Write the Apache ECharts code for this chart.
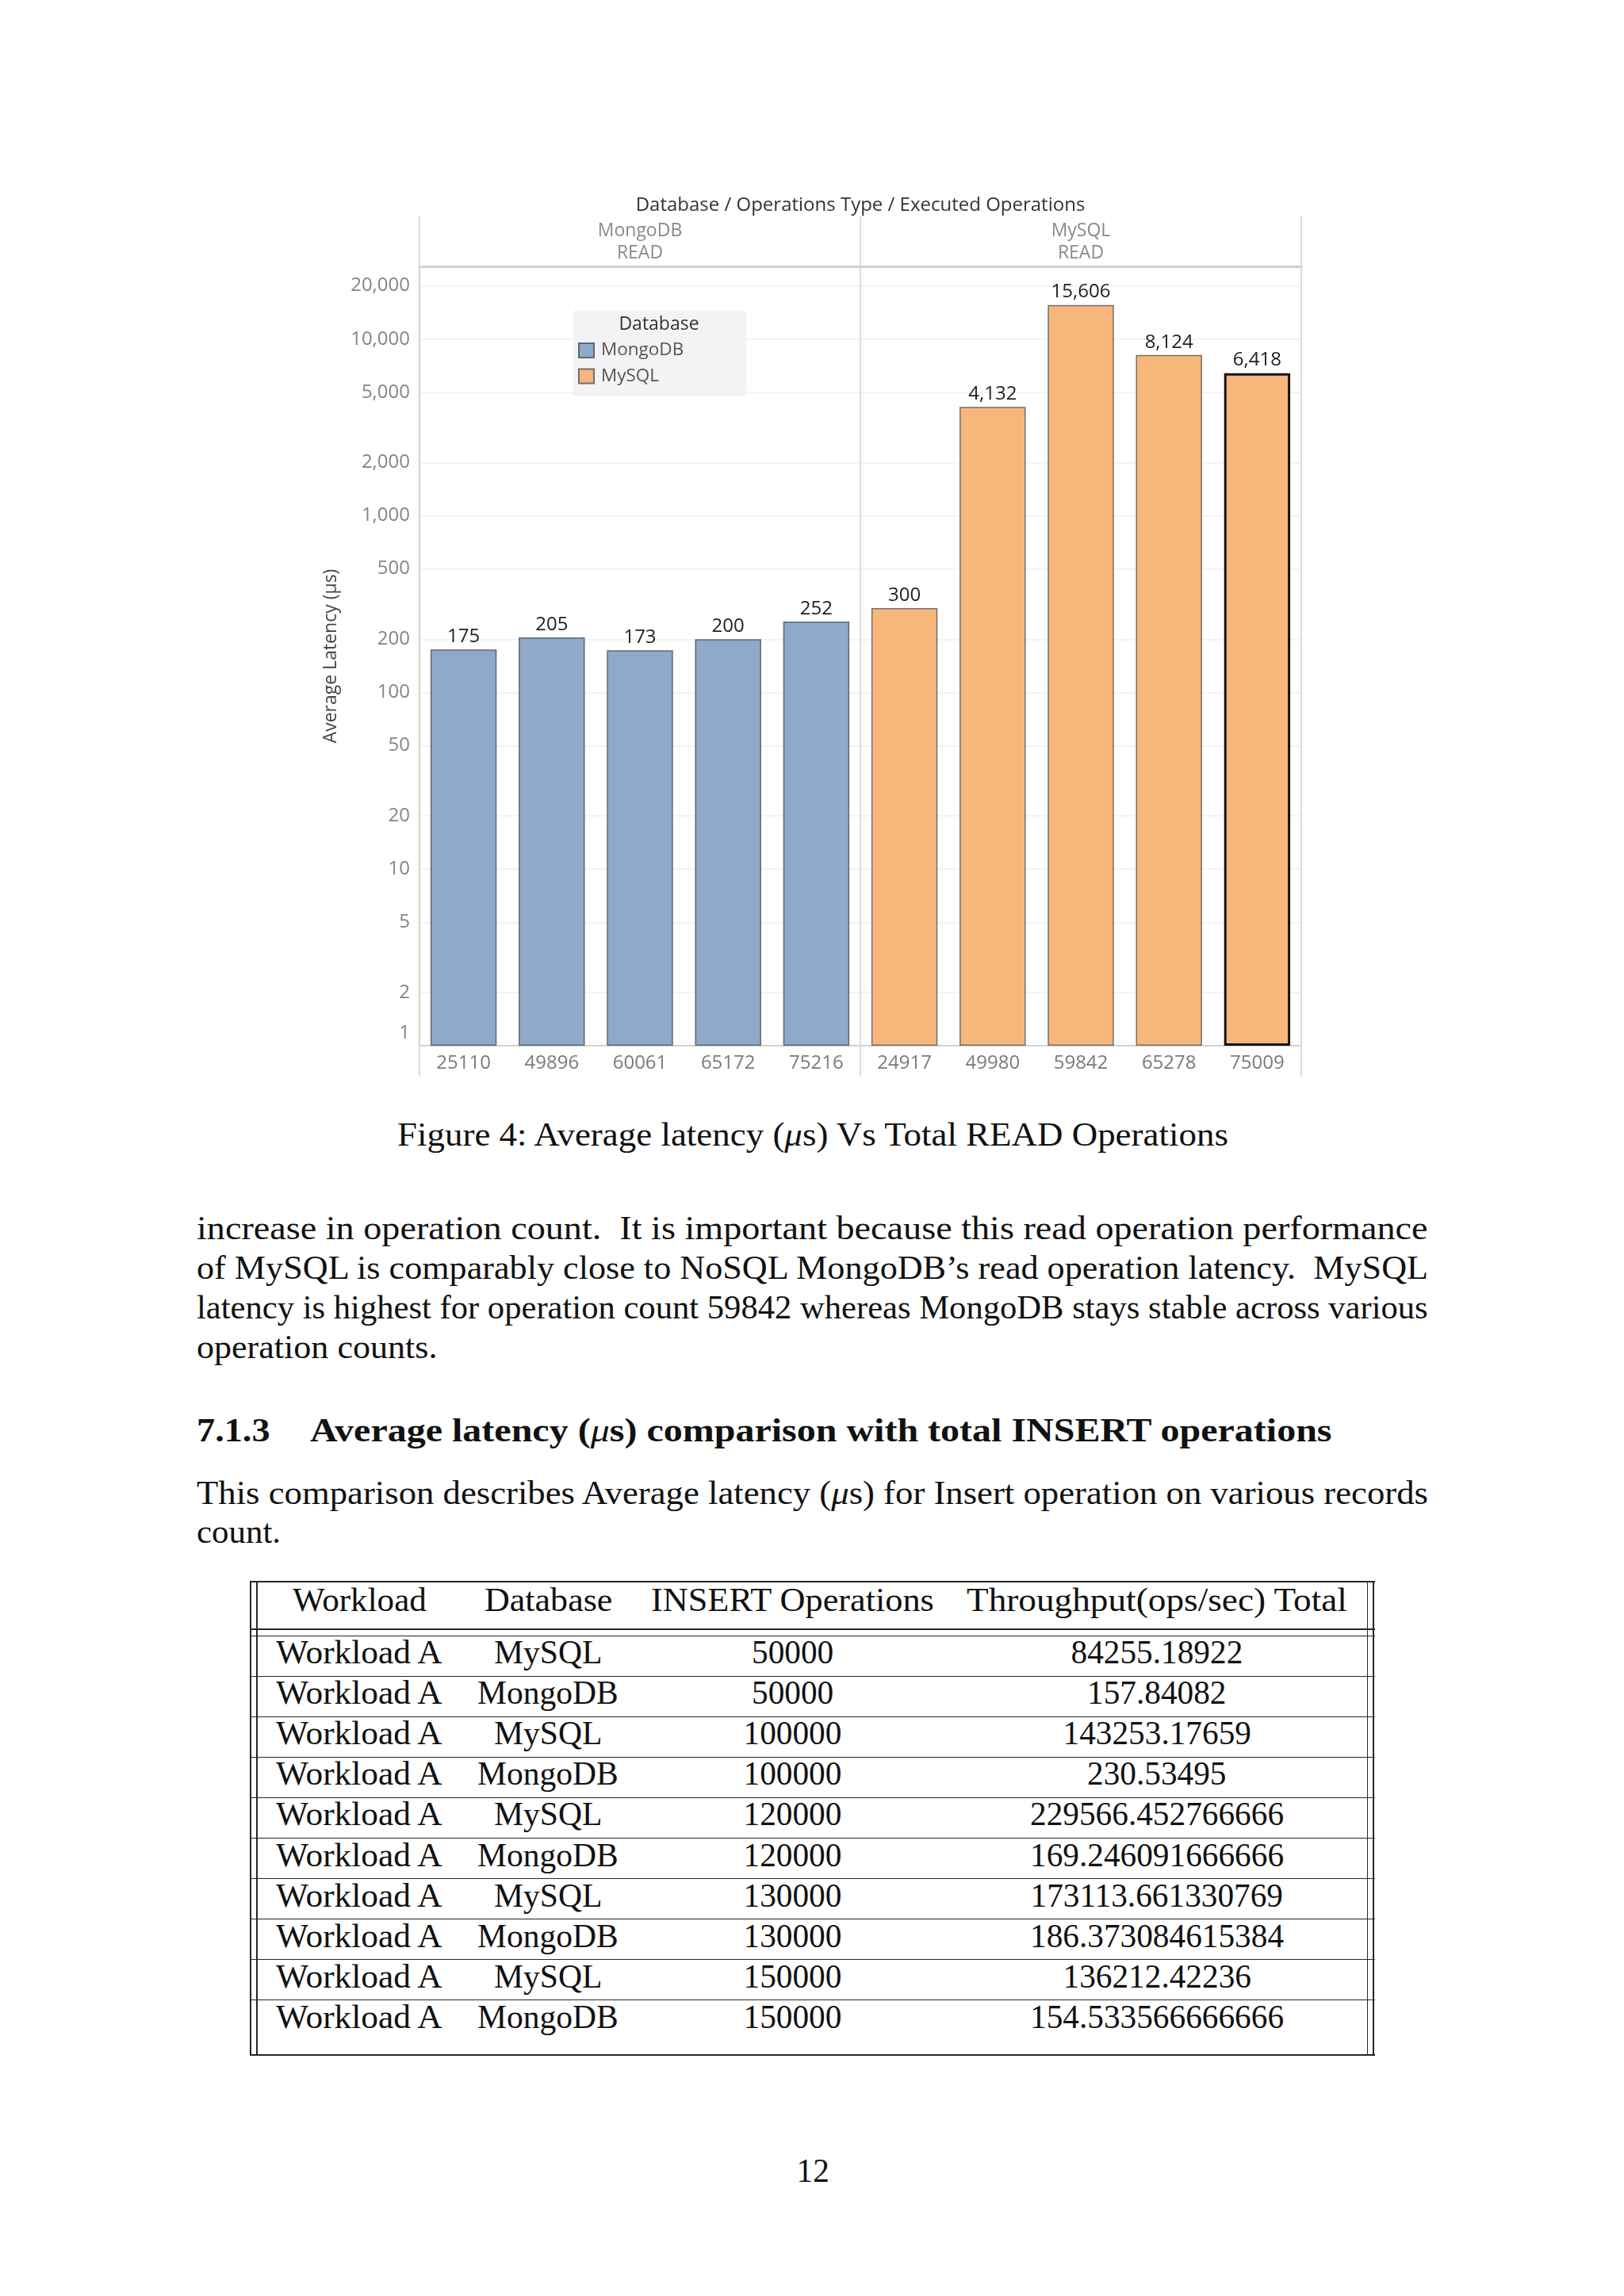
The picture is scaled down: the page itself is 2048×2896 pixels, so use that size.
<!DOCTYPE html>
<html><head><meta charset="utf-8">
<script src="https://cdn.jsdelivr.net/npm/echarts@6/dist/echarts.min.js"></script>
<style>
html,body{margin:0;padding:0;background:#fff;}
#page{position:relative;width:2048px;height:2896px;overflow:hidden;background:#fff;}
#chart{position:absolute;left:0;top:0;width:2048px;height:1400px;}
.t{position:absolute;left:0;top:0;white-space:pre;font-family:'Liberation Serif','Times New Roman',serif;font-size:41.3px;line-height:50px;color:#111;transform-origin:0 0;}
.b{font-weight:bold;}
.ln{position:absolute;background:#262626;}
</style></head>
<body><div id="page"><div id="chart"></div>
<div class="t" data-c="1025" data-b="1445" data-w="1048">Figure 4: Average latency (<i>μ</i>s) Vs Total READ Operations</div>
<div class="t" data-x="248" data-b="1563" data-w="1553">increase in operation count.  It is important because this read operation performance</div>
<div class="t" data-x="248" data-b="1613" data-w="1553">of MySQL is comparably close to NoSQL MongoDB’s read operation latency.  MySQL</div>
<div class="t" data-x="248" data-b="1663" data-w="1553">latency is highest for operation count 59842 whereas MongoDB stays stable across various</div>
<div class="t" data-x="248" data-b="1713" data-w="303">operation counts.</div>
<div class="t b" data-x="248" data-b="1818" data-w="93">7.1.3</div>
<div class="t b" data-x="391" data-b="1818" data-w="1289">Average latency (<i style="font-weight:normal">μ</i>s) comparison with total INSERT operations</div>
<div class="t" data-x="248" data-b="1897" data-w="1553">This comparison describes Average latency (<i>μ</i>s) for Insert operation on various records</div>
<div class="t" data-x="248" data-b="1946" data-w="106">count.</div>
<div class="t" data-c="1025" data-b="2752">12</div>
</div>
<script>
// ---- chart data ----
const categories = ['25110','49896','60061','65172','75216','24917','49980','59842','65278','75009'];
const mongoLatency = [175, 205, 173, 200, 252];
const mysqlLatency = [300, 4132, 15606, 8124, 6418];
const panes = ['MongoDB', 'MySQL'];
const paneOps = ['READ', 'READ'];
const yTicks = [1, 2, 5, 10, 20, 50, 100, 200, 500, 1000, 2000, 5000, 10000, 20000];
const yMax = 25800;

// ---- table data ----
const tableHeader = ['Workload', 'Database', 'INSERT Operations', 'Throughput(ops/sec) Total'];
const tableRows = [
  ['Workload A', 'MySQL', '50000', '84255.18922'],
  ['Workload A', 'MongoDB', '50000', '157.84082'],
  ['Workload A', 'MySQL', '100000', '143253.17659'],
  ['Workload A', 'MongoDB', '100000', '230.53495'],
  ['Workload A', 'MySQL', '120000', '229566.452766666'],
  ['Workload A', 'MongoDB', '120000', '169.246091666666'],
  ['Workload A', 'MySQL', '130000', '173113.661330769'],
  ['Workload A', 'MongoDB', '130000', '186.373084615384'],
  ['Workload A', 'MySQL', '150000', '136212.42236'],
  ['Workload A', 'MongoDB', '150000', '154.533566666666']
];

const FONT = "'Open Sans', 'Noto Sans', sans-serif";
const fmt = v => Number(v).toLocaleString('en-US');
const nMongo = mongoLatency.length;
const mongoData = categories.map((c, i) => i < nMongo ? mongoLatency[i] : '-');
const mysqlData = categories.map((c, i) => {
  if (i < nMongo) return '-';
  const v = mysqlLatency[i - nMongo];
  return (i === categories.length - 1) ? {value: v, itemStyle: {borderColor: '#151515', borderWidth: 3}} : v;
});

const chart = echarts.init(document.getElementById('chart'));
const labelStyle = {show: true, position: 'top', distance: 4, color: '#222', fontSize: 24, fontFamily: FONT,
  formatter: p => fmt(p.value)};
chart.setOption({
  animation: false,
  backgroundColor: 'transparent',
  textStyle: {fontFamily: FONT},
  title: [
    {text: 'Database / Operations Type / Executed Operations', left: 1085, top: 243, textAlign: 'center', padding: 0,
      textStyle: {fontSize: 24, fontWeight: 'normal', color: '#333', lineHeight: 32, fontFamily: FONT}},
    {text: 'Database', left: 831, top: 395, textAlign: 'center', padding: 0,
      textStyle: {fontSize: 23, fontWeight: 'normal', color: '#333', lineHeight: 28, fontFamily: FONT}}
  ],
  legend: {orient: 'vertical', left: 723, top: 392, backgroundColor: '#f3f2f4', padding: [38, 79, 13, 6],
    itemWidth: 19, itemHeight: 18, itemGap: 8.5, icon: 'rect', data: panes,
    textStyle: {fontSize: 22.5, color: '#555', lineHeight: 24, padding: [0, 0, 0, 4], fontFamily: FONT}},
  grid: {left: 529, right: 407, top: 336, bottom: 81, containLabel: false, outerBoundsMode: 'none'},
  xAxis: [
    {type: 'category', data: categories, position: 'bottom',
      axisLine: {show: true, lineStyle: {color: '#d2d2d2', width: 2}},
      axisTick: {show: true, interval: (i) => i % nMongo === 0, length: 39, lineStyle: {color: '#dcdcdc', width: 2}},
      axisLabel: {interval: 0, margin: 10, color: '#7a7a7a', fontSize: 24, lineHeight: 24, fontFamily: FONT},
      splitLine: {show: false}},
    {type: 'category', data: panes, position: 'top',
      axisLine: {show: true, lineStyle: {color: '#cfcfcf', width: 3}},
      axisTick: {show: true, interval: 0, length: 63, lineStyle: {color: '#dcdcdc', width: 2}},
      axisLabel: {interval: 0, margin: 2, color: '#8a8a8a', fontSize: 23, lineHeight: 28.5, fontFamily: FONT,
        formatter: (v, i) => v + '\n' + paneOps[i]},
      splitLine: {show: true, interval: 0, lineStyle: {color: '#dcdcdc', width: 2}}}
  ],
  yAxis: {type: 'log', logBase: 10, min: 1, max: yMax,
    name: 'Average Latency (µs)', nameLocation: 'middle', nameGap: 100,
    nameTextStyle: {color: '#444', fontSize: 23, fontFamily: FONT},
    axisLine: {show: true, lineStyle: {color: '#d2d2d2', width: 2}},
    axisTick: {show: false, customValues: yTicks},
    axisLabel: {customValues: yTicks, margin: 12, color: '#858585', fontSize: 24, fontFamily: FONT,
      formatter: v => v === 1 ? '{lo|1}' : fmt(v),
      rich: {lo: {padding: [0, 0, 32, 0], color: '#858585', fontSize: 24, fontFamily: FONT}}},
    splitLine: {show: true, lineStyle: {color: '#efefef', width: 1.5}}},
  series: [
    {name: 'MongoDB', type: 'bar', data: mongoData, barGap: '-100%', barCategoryGap: '25%',
      itemStyle: {color: '#8fa9c8', borderColor: '#5a6878', borderWidth: 1.5}, label: labelStyle},
    {name: 'MySQL', type: 'bar', data: mysqlData, barGap: '-100%', barCategoryGap: '25%',
      itemStyle: {color: '#f7b77a', borderColor: '#707070', borderWidth: 1.5}, label: labelStyle}
  ]
});

// ---- table drawing (HTML) ----
const page = document.getElementById('page');
const T = {cols: [453, 691, 999.5, 1459], headB: 2031.7, rowB0: 2098.3, pitch: 51.04,
  hLines: [1995, 2055, 2063.3], bottom: 2592, vX: [316, 324, 1724.5, 1732], x0: 316, x1: 1733.5,
  headW: [169, 161, 357, 480], wordW: {'Workload A': 210, 'MySQL': 136, 'MongoDB': 178}};
function addText(txt, c, b, w) {
  const d = document.createElement('div');
  d.className = 't'; d.textContent = txt; d.dataset.c = c; d.dataset.b = b; if (w) d.dataset.w = w;
  page.appendChild(d);
}
tableHeader.forEach((h, j) => addText(h, T.cols[j], T.headB, T.headW[j]));
tableRows.forEach((r, i) => r.forEach((cell, j) => addText(cell, T.cols[j], T.rowB0 + i * T.pitch, T.wordW[cell])));
const hs = T.hLines.slice();
for (let k = 1; k < tableRows.length; k++) hs.push(T.hLines[2] + k * T.pitch);
hs.push(T.bottom);
hs.forEach(y => { const l = document.createElement('div'); l.className = 'ln';
  l.style.cssText = `left:${T.x0}px;top:${y - 0.8}px;width:${T.x1 - T.x0}px;height:1.6px`; page.appendChild(l); });
T.vX.forEach(x => { const l = document.createElement('div'); l.className = 'ln';
  l.style.cssText = `left:${x - 0.8}px;top:${T.hLines[0] - 0.8}px;width:1.6px;height:${T.bottom - T.hLines[0] + 1.6}px`; page.appendChild(l); });

// ---- place page text by baseline & width ----
function placeAll() {
  document.querySelectorAll('.t').forEach(el => {
    el.style.transform = 'none';
    const probe = document.createElement('span');
    probe.style.cssText = 'display:inline-block;width:0;height:0;vertical-align:baseline';
    el.appendChild(probe);
    const off = probe.offsetTop;
    el.removeChild(probe);
    const nat = el.offsetWidth;
    const w = el.dataset.w ? parseFloat(el.dataset.w) : nat;
    const s = w / nat;
    el.style.top = (parseFloat(el.dataset.b) - off) + 'px';
    const left = el.dataset.x !== undefined ? parseFloat(el.dataset.x) : parseFloat(el.dataset.c) - w / 2;
    el.style.left = left + 'px';
    el.style.transform = `scaleX(${s})`;
  });
}
placeAll();
if (document.fonts && document.fonts.ready) document.fonts.ready.then(placeAll);
</script>
</body></html>
